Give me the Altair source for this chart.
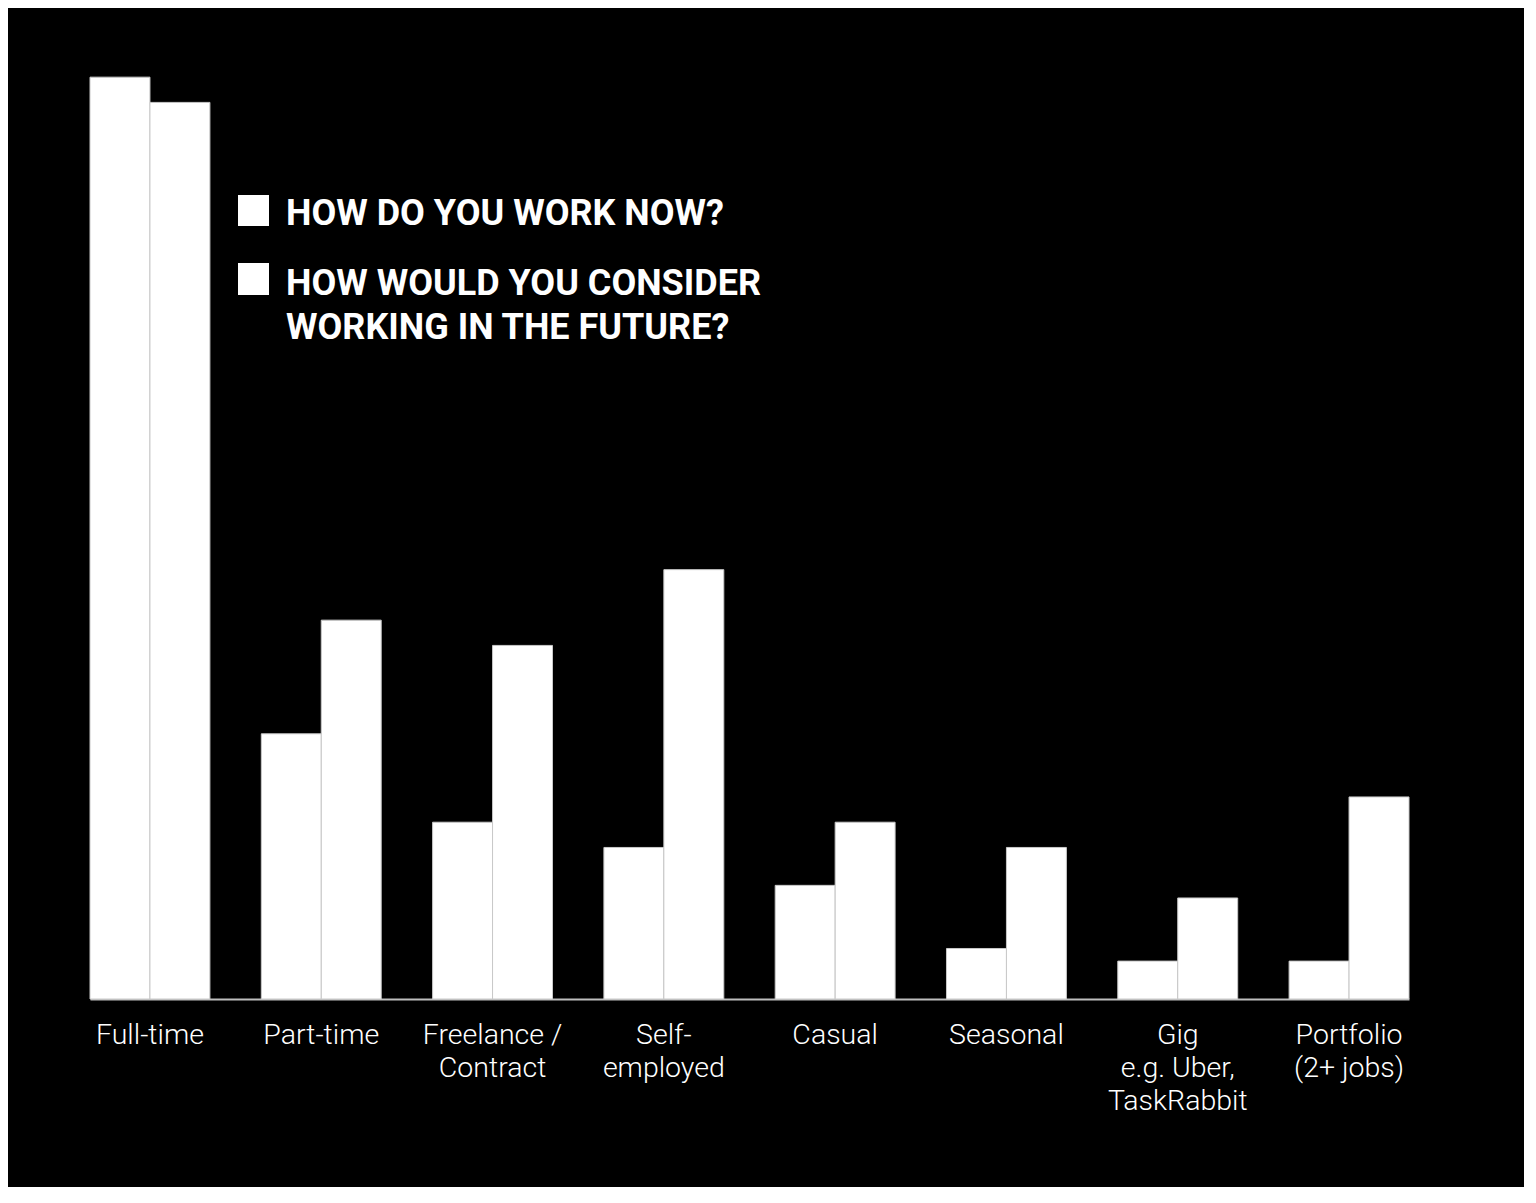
import altair as alt
import pandas as pd

categories = ["Full-time", "Part-time", "Freelance /|Contract", "Self-|employed",
              "Casual", "Seasonal", "Gig|e.g. Uber,|TaskRabbit", "Portfolio|(2+ jobs)"]
series = ["HOW DO YOU WORK NOW?", "HOW WOULD YOU CONSIDER\nWORKING IN THE FUTURE?"]
now_values = [73, 21, 14, 12, 9, 4, 3, 3]
future_values = [71, 30, 28, 34, 14, 12, 8, 16]

rows = []
for c, a, b in zip(categories, now_values, future_values):
    rows.append({"category": c, "series": series[0], "order": 0, "value": a})
    rows.append({"category": c, "series": series[1], "order": 1, "value": b})
df = pd.DataFrame(rows)

legend_df = pd.DataFrame({"series": series, "order": [0, 1]})

W, H = 1319, 985

bars = alt.Chart(df).mark_bar(color="white", stroke="#c8c8c8", strokeWidth=1).encode(
    x=alt.X("category:N", sort=categories,
            scale=alt.Scale(paddingInner=0.3, paddingOuter=0),
            axis=alt.Axis(title=None, labelExpr="split(datum.label, '|')",
                          labelAngle=0, labelColor="white", labelFont="Roboto",
                          labelFontWeight=300, labelFontSize=28.5, labelLineHeight=33,
                          labelPadding=21, ticks=False, domainColor="#bdbdbd",
                          domainWidth=2, labelLimit=300)),
    xOffset=alt.XOffset("order:O"),
    y=alt.Y("value:Q", scale=alt.Scale(domain=[0, 78], nice=False), axis=None),
)

sq1 = alt.Chart(legend_df[legend_df.order == 0]).mark_rect(color="white").encode(
    x=alt.value(148), x2=alt.value(179), y=alt.value(181), y2=alt.value(212))
sq2 = alt.Chart(legend_df[legend_df.order == 1]).mark_rect(color="white").encode(
    x=alt.value(148), x2=alt.value(179), y=alt.value(249), y2=alt.value(281))
t1 = alt.Chart(legend_df[legend_df.order == 0]).mark_text(
    color="white", font="Roboto", fontWeight="bold", fontSize=36,
    align="left", baseline="alphabetic").encode(
    x=alt.value(196), y=alt.value(211), text="series:N")
t2 = alt.Chart(legend_df[legend_df.order == 1]).mark_text(
    color="white", font="Roboto", fontWeight="bold", fontSize=36,
    align="left", baseline="alphabetic", lineBreak="\n", lineHeight=44).encode(
    x=alt.value(196), y=alt.value(281), text="series:N")

chart = alt.layer(bars, sq1, sq2, t1, t2).properties(
    width=W, height=H, background="black",
    padding={"left": 82, "top": 6, "right": 115, "bottom": 188},
    autosize=alt.AutoSizeParams(type="none"),
).configure_view(stroke=None)

chart.save("out.html", embed_options={"renderer": "svg", "actions": False})
